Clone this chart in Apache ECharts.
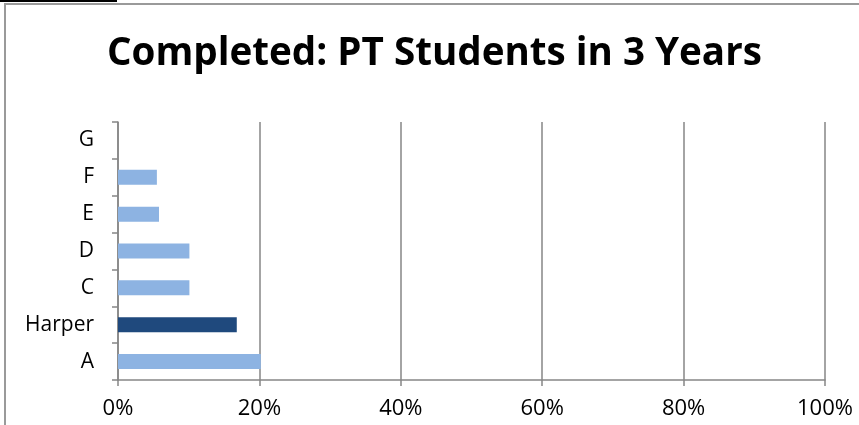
<!DOCTYPE html>
<html>
<head>
<meta charset="utf-8">
<script src="https://cdn.jsdelivr.net/npm/echarts@6/dist/echarts.min.js"></script>
<style>
  html, body { margin: 0; padding: 0; background: #fff; }
  #main { width: 859px; height: 425px; }
</style>
</head>
<body>
<div id="main"></div>
<script>
var categories = ['A', 'Harper', 'C', 'D', 'E', 'F', 'G'];
var values = [20.2, 16.8, 10.1, 10.1, 5.8, 5.5, 0];
var xTicks = [0, 20, 40, 60, 80, 100];

var light = '#8DB3E2', dark = '#1F497D';

var myChart = echarts.init(document.getElementById('main'));

myChart.setOption({
    animation: false,
    title: {
        text: 'Completed: PT Students in 3 Years',
        left: 102,
        top: 30,
        textStyle: {
            fontFamily: 'Open Sans',
            fontWeight: 'bold',
            fontSize: 38.6,
            color: '#000'
        }
    },
    grid: { left: 118, right: 34, top: 122, bottom: 45 },
    xAxis: {
        type: 'value',
        min: 0,
        max: 100,
        interval: 20,
        axisLine: { show: true, lineStyle: { color: '#868686', width: 1.5 } },
        axisTick: { show: true, length: 6, lineStyle: { color: '#868686', width: 1.5 } },
        splitLine: { show: true, lineStyle: { color: '#868686', width: 1.5 } },
        axisLabel: {
            formatter: function (v) { return xTicks.indexOf(v) >= 0 ? v + '%' : ''; },
            margin: 18,
            fontFamily: 'Open Sans',
            fontSize: 22,
            color: '#000'
        }
    },
    yAxis: {
        type: 'category',
        data: categories,
        axisLine: { show: true, lineStyle: { color: '#868686', width: 1.5 } },
        axisTick: { show: true, length: 6, lineStyle: { color: '#868686', width: 1.5 } },
        axisLabel: {
            margin: 24,
            fontFamily: 'Open Sans',
            fontSize: 21,
            color: '#000'
        }
    },
    series: [{
        type: 'bar',
        barWidth: 15,
        data: values.map(function (v, i) {
            return { value: v, itemStyle: { color: categories[i] === 'Harper' ? dark : light } };
        })
    }],
    graphic: [
        { type: 'rect', shape: { x: 5, y: 4, width: 900, height: 500 },
          style: { fill: 'none', stroke: '#9a9a9a', lineWidth: 2 }, silent: true },
        { type: 'line', shape: { x1: 0, y1: 1, x2: 117, y2: 1 },
          style: { stroke: '#000', lineWidth: 2 }, silent: true }
    ]
});
</script>
</body>
</html>
